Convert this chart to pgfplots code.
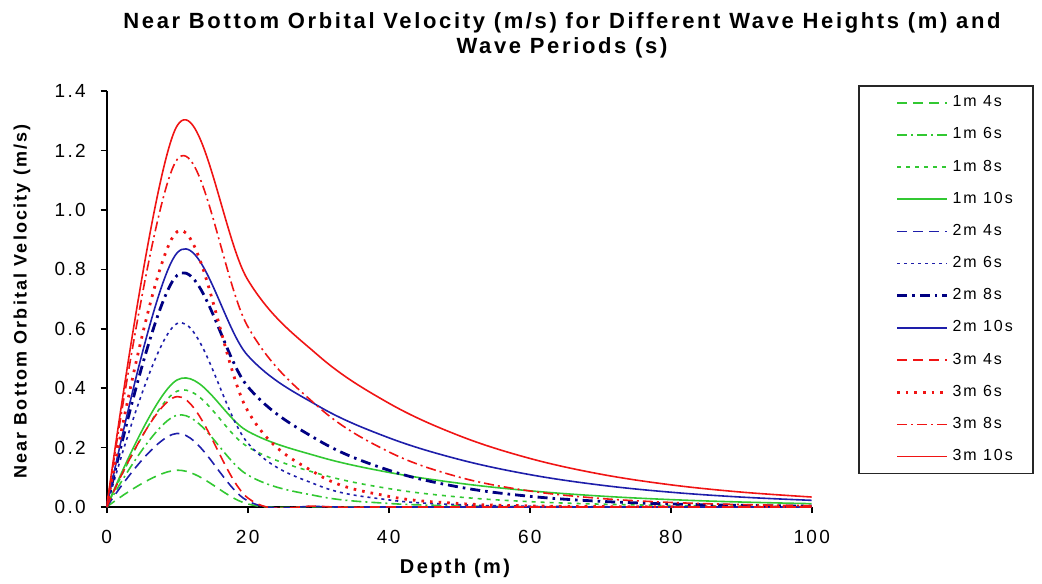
\documentclass[border=0pt]{standalone}
\usepackage{fontspec}
\setmainfont{Liberation Sans}[LetterSpace=12]
\usepackage{pgfplots}
\pgfplotsset{compat=1.18}
\usepackage{pgfplotstable}

\definecolor{cgreen}{RGB}{50,200,50}
\definecolor{cblue}{RGB}{30,30,170}
\definecolor{cnavy}{RGB}{0,0,130}
\definecolor{cred}{RGB}{240,20,20}

% velocity (m/s) vs depth (m); a = 1 m, b = 2 m, c = 3 m wave height; 4,6,8,10 = period (s)
\pgfplotstableread{
x    a4      a6      a8      a10     b4      b6      b8      b10     c4      c6      c8      c10
0    0       0       0       0       0       0       0       0       0       0       0       0
10   0.1239  0.3090  0.3901  0.4280  0.2478  0.6180  0.7802  0.8560  0.3717  0.9270  1.1703  1.2840
20   0.0103  0.1079  0.2027  0.2551  0.0205  0.2158  0.4054  0.5102  0.0308  0.3237  0.6081  0.7653
30   0.0008  0.0364  0.1125  0.1701  0.0017  0.0727  0.2250  0.3402  0.0025  0.1091  0.3375  0.5103
40   0.0001  0.0120  0.0620  0.1166  0.0001  0.0239  0.1239  0.2332  0.0002  0.0359  0.1859  0.3498
50   0       0.0039  0.0335  0.0800  0       0.0078  0.0671  0.1601  0       0.0117  0.1006  0.2401
60   0       0.0013  0.0180  0.0546  0       0.0026  0.0360  0.1091  0       0.0038  0.0540  0.1637
70   0       0.0004  0.0096  0.0369  0       0.0008  0.0192  0.0739  0       0.0013  0.0289  0.1108
80   0       0.0001  0.0051  0.0249  0       0.0003  0.0103  0.0498  0       0.0004  0.0154  0.0747
90   0       0       0.0027  0.0167  0       0.0001  0.0055  0.0334  0       0.0001  0.0082  0.0502
100  0       0       0.0015  0.0112  0       0       0.0029  0.0224  0       0       0.0044  0.0336
}\vel

\begin{document}
\begin{tikzpicture}
\path[use as bounding box] (0,0) rectangle (521pt,291.5pt);
\begin{axis}[
  at={(53.35pt,38pt)}, anchor=south west,
  scale only axis, width=352.5pt, height=207.9pt,
  xmin=0, xmax=100, ymin=0, ymax=1.4,
  axis x line*=bottom, axis y line*=left,
  axis line style={black, line width=0.8pt, -},
  xtick={0,20,40,60,80,100},
  ytick={0,0.2,0.4,0.6,0.8,1.0,1.2,1.4},
  tick align=outside, major tick length=3pt,
  tick style={black, line width=0.8pt},
  minor tick num=0,
  /pgf/number format/assume math mode=true,
  ticklabel style={font=\fontsize{9.5}{11}\selectfont},
  xticklabel style={yshift=-5pt},
  yticklabel style={xshift=-4pt, /pgf/number format/fixed, /pgf/number format/fixed zerofill, /pgf/number format/precision=1},
  title={Near Bottom Orbital Velocity (m/s) for Different Wave Heights (m) and\\Wave Periods (s)},
  title style={at={(rel axis cs:0.6458,1.105)}, anchor=center, align=center,
    font=\bfseries\fontsize{11}{12.5}\selectfont},
  xlabel={Depth (m)},
  xlabel style={at={(rel axis cs:0.494,-0.147)}, anchor=center,
    font=\bfseries\fontsize{10}{11}\selectfont},
  ylabel={Near Bottom Orbital Velocity (m/s)},
  ylabel style={at={(rel axis cs:-0.1201,0.494)}, anchor=center,
    font=\bfseries\fontsize{9}{10}\selectfont},
  legend cell align=left,
  legend image code/.code={\draw[#1] (0pt,0pt) (10.5pt,0pt) -- (35.5pt,0pt);},
  legend style={at={(rel axis cs:1.0657,1.015)}, anchor=north west,
    draw=black!85, line width=0.8pt, inner xsep=8pt, inner ysep=3pt,
    row sep=5.0pt, font=\fontsize{8}{9.5}\selectfont},
  every axis plot/.append style={smooth, tension=0.6, line width=0.8pt},
  ldash/.style={dash pattern=on 5pt off 3pt},
  ddot/.style={dash pattern=on 5pt off 2pt on 1pt off 2pt},
  sdash/.style={dash pattern=on 2pt off 2.5pt},
]
\addplot[cgreen, ldash] table[x=x, y=a4] {\vel};
\addlegendentry{1m 4s}
\addplot[cgreen, ddot] table[x=x, y=a6] {\vel};
\addlegendentry{1m 6s}
\addplot[cgreen, sdash] table[x=x, y=a8] {\vel};
\addlegendentry{1m 8s}
\addplot[cgreen] table[x=x, y=a10] {\vel};
\addlegendentry{1m 10s}
\addplot[cblue, ldash] table[x=x, y=b4] {\vel};
\addlegendentry{2m 4s}
\addplot[cblue, dash pattern=on 1.5pt off 2pt] table[x=x, y=b6] {\vel};
\addlegendentry{2m 6s}
\addplot[cnavy, line width=1.4pt, dash pattern=on 5pt off 2.5pt on 1.3pt off 2.5pt] table[x=x, y=b8] {\vel};
\addlegendentry{2m 8s}
\addplot[cblue] table[x=x, y=b10] {\vel};
\addlegendentry{2m 10s}
\addplot[cred, ldash] table[x=x, y=c4] {\vel};
\addlegendentry{3m 4s}
\addplot[cred, line width=1.4pt, dash pattern=on 1.3pt off 3pt] table[x=x, y=c6] {\vel};
\addlegendentry{3m 6s}
\addplot[cred, ddot] table[x=x, y=c8] {\vel};
\addlegendentry{3m 8s}
\addplot[cred] table[x=x, y=c10] {\vel};
\addlegendentry{3m 10s}
\end{axis}
\end{tikzpicture}
\end{document}
